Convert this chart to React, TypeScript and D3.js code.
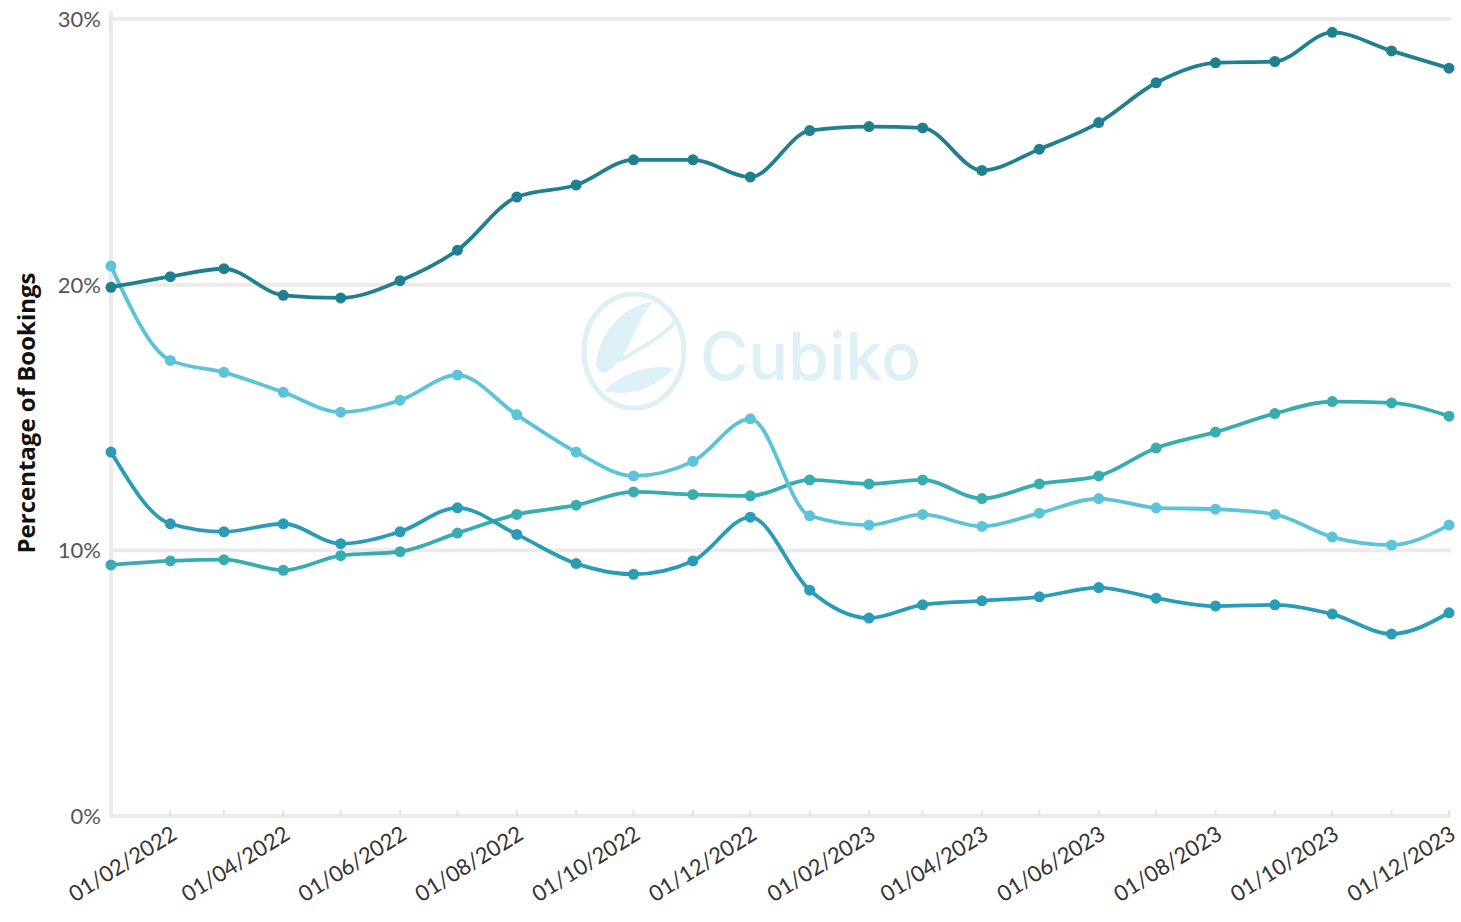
import React, { useRef, useEffect } from "react";
import * as d3 from "d3";

// months on the x axis (first day of each month)
const months = [
  "2022-01-01", "2022-02-01", "2022-03-01", "2022-04-01", "2022-05-01", "2022-06-01",
  "2022-07-01", "2022-08-01", "2022-09-01", "2022-10-01", "2022-11-01", "2022-12-01",
  "2023-01-01", "2023-02-01", "2023-03-01", "2023-04-01", "2023-05-01", "2023-06-01",
  "2023-07-01", "2023-08-01", "2023-09-01", "2023-10-01", "2023-11-01", "2023-12-01",
];

// series values (% of bookings)
const seriesDark = [
  19.9, 20.3, 20.6, 19.6, 19.5, 20.15, 21.3, 23.3, 23.75, 24.7, 24.7, 24.05,
  25.8, 25.95, 25.9, 24.3, 25.1, 26.1, 27.6, 28.35, 28.4, 29.5, 28.8, 28.15,
];
const seriesLight = [
  20.7, 17.15, 16.7, 15.95, 15.2, 15.65, 16.6, 15.1, 13.7, 12.8, 13.35, 14.95,
  11.3, 10.95, 11.35, 10.9, 11.4, 11.95, 11.6, 11.55, 11.35, 10.5, 10.2, 10.95,
];
const seriesBlue = [
  13.7, 11.0, 10.7, 11.0, 10.25, 10.7, 11.6, 10.6, 9.5, 9.1, 9.6, 11.25,
  8.5, 7.45, 7.95, 8.1, 8.25, 8.6, 8.2, 7.9, 7.95, 7.6, 6.85, 7.65,
];
const seriesTeal = [
  9.45, 9.6, 9.65, 9.25, 9.8, 9.95, 10.65, 11.35, 11.7, 12.2, 12.1, 12.05,
  12.65, 12.5, 12.65, 11.95, 12.5, 12.8, 13.85, 14.45, 15.15, 15.6, 15.55, 15.05,
];

const yTicks = [0, 10, 20, 30];

const App = () => {
  const svgRef = useRef<SVGSVGElement>(null);

  useEffect(() => {
    const root = d3.select(svgRef.current);
    root.selectAll("*").remove();

    const W = 1461;
    const H = 922;
    const margin = { top: 19, right: 12, bottom: 106, left: 111 };
    const width = W - margin.left - margin.right;
    const height = H - margin.top - margin.bottom;

    root.attr("width", W).attr("height", H);

    const parse = d3.timeParse("%Y-%m-%d");
    const dates = months.map((m) => parse(m) as Date);

    const x = d3.scaleTime().domain(d3.extent(dates) as [Date, Date]).range([0, width]);
    const y = d3.scaleLinear().domain([0, 30]).range([height, 0]);

    const series = [
      { values: seriesTeal, color: "#38adb0" },
      { values: seriesBlue, color: "#2a9cb6" },
      { values: seriesLight, color: "#5dc3d9" },
      { values: seriesDark, color: "#20808f" },
    ];

    const g = root.append("g").attr("transform", `translate(${margin.left},${margin.top})`);

    // watermark
    const wm = g.append("g").attr("transform", `translate(${523},${332})`);
    wm.append("ellipse")
      .attr("rx", 50).attr("ry", 57)
      .attr("fill", "none").attr("stroke", "#dcf0f5").attr("stroke-width", 5);
    wm.append("path")
      .attr("d", "M-38,12 C-30,-30 -5,-45 20,-50 C5,-35 0,-10 -15,10 C-25,22 -35,28 -38,12 Z")
      .attr("fill", "#dcf0f5");
    wm.append("path")
      .attr("d", "M-30,40 C-10,20 20,12 40,18 C25,30 5,48 -30,40 Z")
      .attr("fill", "#dcf0f5");
    wm.append("path")
      .attr("d", "M-15,10 C10,-5 30,-15 42,-30")
      .attr("fill", "none").attr("stroke", "#dcf0f5").attr("stroke-width", 4);
    g.append("text")
      .attr("x", 589)
      .attr("y", 361)
      .attr("font-family", "Inter, 'Open Sans', sans-serif")
      .attr("font-size", 66)
      .attr("font-weight", 500)
      .attr("fill", "#dcf0f5")
      .text("Cubiko");

    // gridlines
    g.selectAll(".grid")
      .data(yTicks.filter((t) => t > 0))
      .enter()
      .append("line")
      .attr("x1", 0)
      .attr("x2", width + 2)
      .attr("y1", (d) => y(d))
      .attr("y2", (d) => y(d))
      .attr("stroke", "#ebebeb")
      .attr("stroke-width", 4);

    // axes lines
    g.append("line")
      .attr("x1", 0).attr("x2", width + 2)
      .attr("y1", height).attr("y2", height)
      .attr("stroke", "#ebebeb").attr("stroke-width", 4);
    g.append("line")
      .attr("x1", 0).attr("x2", 0)
      .attr("y1", -8).attr("y2", height + 2)
      .attr("stroke", "#ebebeb").attr("stroke-width", 4);

    // month ticks
    g.selectAll(".mtick")
      .data(dates.slice(1))
      .enter()
      .append("line")
      .attr("x1", (d) => x(d)).attr("x2", (d) => x(d))
      .attr("y1", height - 6).attr("y2", height)
      .attr("stroke", "#e4e4e4").attr("stroke-width", 2);

    // y labels
    g.selectAll(".ylab")
      .data(yTicks)
      .enter()
      .append("text")
      .attr("x", -10)
      .attr("y", (d) => y(d) + 8)
      .attr("text-anchor", "end")
      .attr("font-family", "Lato, sans-serif")
      .attr("font-size", 22)
      .attr("fill", "#555")
      .text((d) => `${d}%`);

    // x labels every 2 months
    const fmt = d3.timeFormat("%d/%m/%Y");
    g.selectAll(".xlab")
      .data(dates.filter((_, i) => i % 2 === 1))
      .enter()
      .append("text")
      .attr("transform", (d) => `translate(${x(d) + 8},${height + 22}) rotate(-32)`)
      .attr("text-anchor", "end")
      .attr("font-family", "Lato, sans-serif")
      .attr("font-size", 22)
      .attr("fill", "#333")
      .text((d) => fmt(d));

    // y axis title
    root.append("text")
      .attr("transform", `translate(35,${413}) rotate(-90)`)
      .attr("text-anchor", "middle")
      .attr("font-family", "'Open Sans', sans-serif")
      .attr("font-weight", 700)
      .attr("font-size", 24)
      .attr("fill", "#111")
      .text("Percentage of Bookings");

    // lines
    const line = d3
      .line<number>()
      .x((_, i) => x(dates[i]))
      .y((d) => y(d))
      .curve(d3.curveMonotoneX);

    series.forEach((s) => {
      g.append("path")
        .attr("d", line(s.values))
        .attr("fill", "none")
        .attr("stroke", s.color)
        .attr("stroke-width", 3.8);
      g.selectAll(null)
        .data(s.values)
        .enter()
        .append("circle")
        .attr("cx", (_, i) => x(dates[i]))
        .attr("cy", (d) => y(d))
        .attr("r", 5.5)
        .attr("fill", s.color);
    });
  }, []);

  return (
    <svg
      ref={svgRef}
      style={{ position: "absolute", left: 0, top: 0, display: "block", background: "#fff" }}
    ></svg>
  );
};

export default App;
